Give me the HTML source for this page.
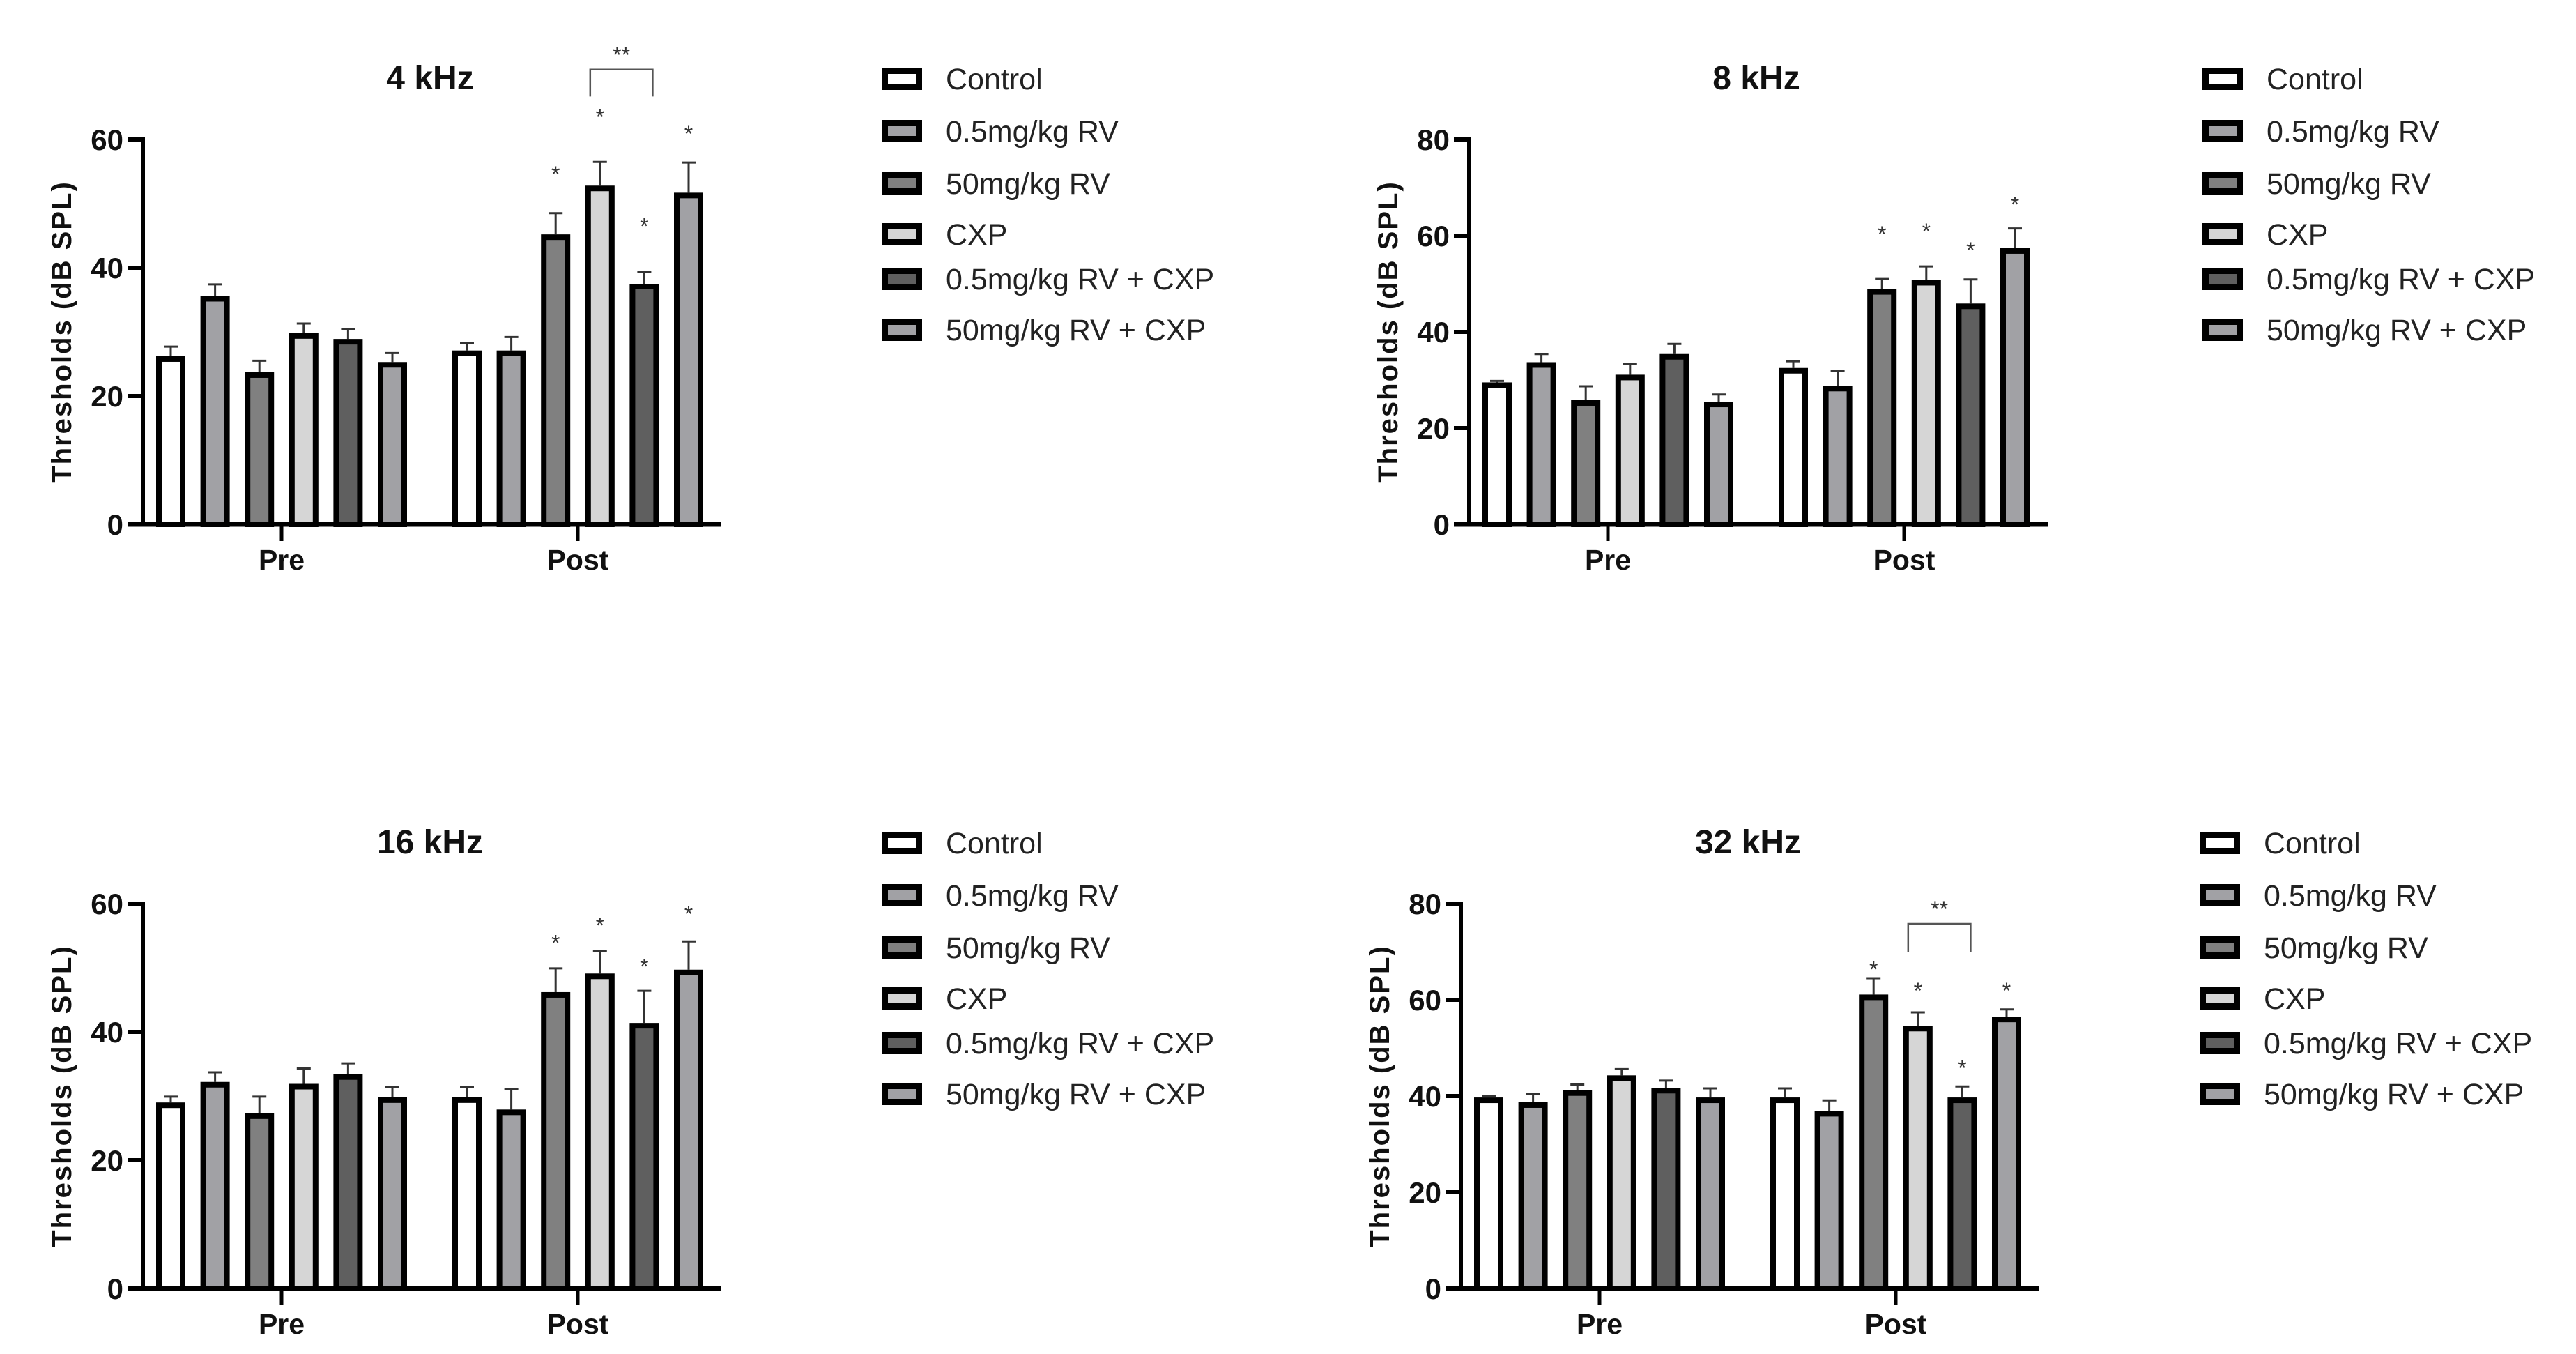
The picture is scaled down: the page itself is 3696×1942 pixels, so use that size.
<!DOCTYPE html>
<html><head><meta charset="utf-8"><style>
html,body{margin:0;padding:0;background:#fff;}
svg{display:block;font-family:"Liberation Sans",sans-serif;}
</style></head><body>
<svg id="fig" width="3696" height="1942" viewBox="0 0 3696 1942" xmlns="http://www.w3.org/2000/svg"></svg>
<script>
const groups = ["Pre","Post"];
const seriesNames = ["Control","0.5mg/kg RV","50mg/kg RV","CXP","0.5mg/kg RV + CXP","50mg/kg RV + CXP"];
const titles = ["4 kHz","8 kHz","16 kHz","32 kHz"];
const yMaxes = [60,80,60,80];
const yTicks4 = [0,20,40,60];
const yTicks8 = [0,20,40,60,80];
const pre4 = [26.2,35.6,23.7,29.8,28.9,25.3];
const preErr4 = [1.5,1.8,1.8,1.5,1.5,1.4];
const post4 = [27.1,27.1,45.2,52.8,37.5,51.7];
const postErr4 = [1.1,2.1,3.3,3.7,1.9,4.7];
const stars4 = [null,null,55.1,64.0,47.0,61.4];
const pre8 = [29.5,33.7,25.8,31.1,35.4,25.5];
const preErr8 = [0.3,1.7,2.9,2.2,2.1,1.5];
const post8 = [32.5,28.8,48.9,50.8,45.9,57.4];
const postErr8 = [1.4,3.1,2.1,2.8,5.0,4.1];
const stars8 = [null,null,61.0,61.6,57.7,67.2];
const pre16 = [29.0,32.2,27.3,31.9,33.4,29.8];
const preErr16 = [0.9,1.5,2.6,2.4,1.7,1.6];
const post16 = [29.8,27.9,46.2,49.1,41.4,49.7];
const postErr16 = [1.6,3.2,3.7,3.5,5.0,4.4];
const stars16 = [null,null,54.4,57.1,50.7,58.9];
const pre32 = [39.7,38.7,41.2,44.3,41.7,39.7];
const preErr32 = [0.3,1.7,1.2,1.3,1.5,1.9];
const post32 = [39.7,36.9,61.1,54.6,39.7,56.5];
const postErr32 = [1.9,2.2,3.4,2.8,2.3,1.5];
const stars32 = [null,null,67.0,62.6,46.5,62.6];
const bracket4 = [66.7,70.9,73.7];
const bracket32 = [70.0,75.8,79.6];

const colors = ["#ffffff","#a1a1a5","#808080","#d6d6d6","#5f5f5f","#a1a1a5"];
const svg = document.getElementById('fig');
const NS = "http://www.w3.org/2000/svg";
function mk(tag, attrs, parent){const e=document.createElementNS(NS,tag);for(const k in attrs)e.setAttribute(k,attrs[k]);(parent||svg).appendChild(e);return e;}

const charts = [
 {ox:205,oy:752,lgx:1357,ymax:yMaxes[0],ticks:yTicks4,pre:pre4,preErr:preErr4,post:post4,postErr:postErr4,stars:stars4,bracket:bracket4,title:titles[0]},
 {ox:2108,oy:752,lgx:3252,ymax:yMaxes[1],ticks:yTicks8,pre:pre8,preErr:preErr8,post:post8,postErr:postErr8,stars:stars8,bracket:null,title:titles[1]},
 {ox:205,oy:1848,lgx:1357,ymax:yMaxes[2],ticks:yTicks4,pre:pre16,preErr:preErr16,post:post16,postErr:postErr16,stars:stars16,bracket:null,title:titles[2]},
 {ox:2096,oy:1848,lgx:3248,ymax:yMaxes[3],ticks:yTicks8,pre:pre32,preErr:preErr32,post:post32,postErr:postErr32,stars:stars32,bracket:bracket32,title:titles[3]}
];
const PH = 552, PITCH = 63.6, BW = 42, SW = 8;
const groupX = [199, 624];

charts.forEach((c, ci) => {
  const g = mk('g', {});
  
  
  const y = v => c.oy - v / c.ymax * PH;
  const xc = (gi, si) => c.ox + groupX[gi] + (si - 2.5) * PITCH;

  const t = mk('text', {x:c.ox+412, y:c.oy-640+16, 'text-anchor':'middle','font-size':48,'font-weight':'bold',fill:'#111'}, g);
  t.textContent = c.title;
  
  

  const yt = mk('text', {x:0,y:0,'text-anchor':'middle','font-size':40,'font-weight':'bold',fill:'#111','letter-spacing':'2',transform:`translate(${c.ox-103},${c.oy-PH/2}) rotate(-90)`}, g);
  yt.textContent = 'Thresholds (dB SPL)';
  
  

  [c.pre, c.post].forEach((vals, gi) => {
    const errs = gi === 0 ? c.preErr : c.postErr;
    vals.forEach((v, si) => {
      const cx = xc(gi, si);
      const top = y(v + errs[si]);
      const el = mk('line', {x1:cx, x2:cx, y1:y(v), y2:top, stroke:'#333','stroke-width':3}, g);
      
      
      const cap = mk('line', {x1:cx-10, x2:cx+10, y1:top, y2:top, stroke:'#333','stroke-width':3}, g);
      
      
      const r = mk('rect', {x:cx-BW/2+SW/2, y:y(v)+SW/2, width:BW-SW, height:Math.max(0,c.oy-y(v)-SW/2), fill:colors[si], stroke:'#000','stroke-width':SW}, g);
      
      
    });
  });
  c.stars.forEach((s, si) => {
    if (s === null) return;
    const st = mk('text', {x:xc(1,si), y:y(s)+16, 'text-anchor':'middle','font-size':32,fill:'#333'}, g);
    st.textContent = '*';
    
    
  });
  if (c.bracket) {
    const x1 = xc(1,3) - 14, x2 = xc(1,4) + 12;
    const p = mk('path', {d:`M${x1},${y(c.bracket[0])} V${y(c.bracket[1])} H${x2} V${y(c.bracket[0])}`, fill:'none', stroke:'#555','stroke-width':2.5}, g);
    
    
    const bt = mk('text', {x:(x1+x2)/2, y:y(c.bracket[2])+16, 'text-anchor':'middle','font-size':32,fill:'#333'}, g);
    bt.textContent = '**';
    
    
  }
  const ya = mk('line', {x1:c.ox, x2:c.ox, y1:y(c.ymax)-3, y2:c.oy, stroke:'#000','stroke-width':6}, g);
  
  
  const xa = mk('line', {x1:c.ox-22, x2:c.ox+830, y1:c.oy, y2:c.oy, stroke:'#000','stroke-width':7}, g);
  
  
  c.ticks.forEach(tv => {
    const tk = mk('line', {x1:c.ox-22, x2:c.ox, y1:y(tv), y2:y(tv), stroke:'#000','stroke-width':6}, g);
    
    
    const tl = mk('text', {x:c.ox-28, y:y(tv)+15, 'text-anchor':'end','font-size':42,'font-weight':'bold',fill:'#111'}, g);
    tl.textContent = tv;
    
    
  });
  groups.forEach((gn, gi) => {
    const gx = c.ox + groupX[gi];
    const tk = mk('line', {x1:gx, x2:gx, y1:c.oy, y2:c.oy+24, stroke:'#000','stroke-width':5}, g);
    
    
    const tl = mk('text', {x:gx, y:c.oy+65, 'text-anchor':'middle','font-size':41,'font-weight':'bold',fill:'#111'}, g);
    tl.textContent = gn;
    
    
  });
  const rowY = [-639,-564,-489,-416,-352,-279];
  seriesNames.forEach((n, si) => {
    const cy = c.oy + rowY[si];
    const lb = mk('rect', {x:c.lgx-92+4.5, y:cy-16+4.5, width:58-9, height:32-9, fill:colors[si], stroke:'#000','stroke-width':9}, g);
    
    
    const lt = mk('text', {x:c.lgx, y:cy+15, 'font-size':43, fill:'#222'}, g);
    lt.textContent = n;
    
    
  });
});
</script>
</body></html>
